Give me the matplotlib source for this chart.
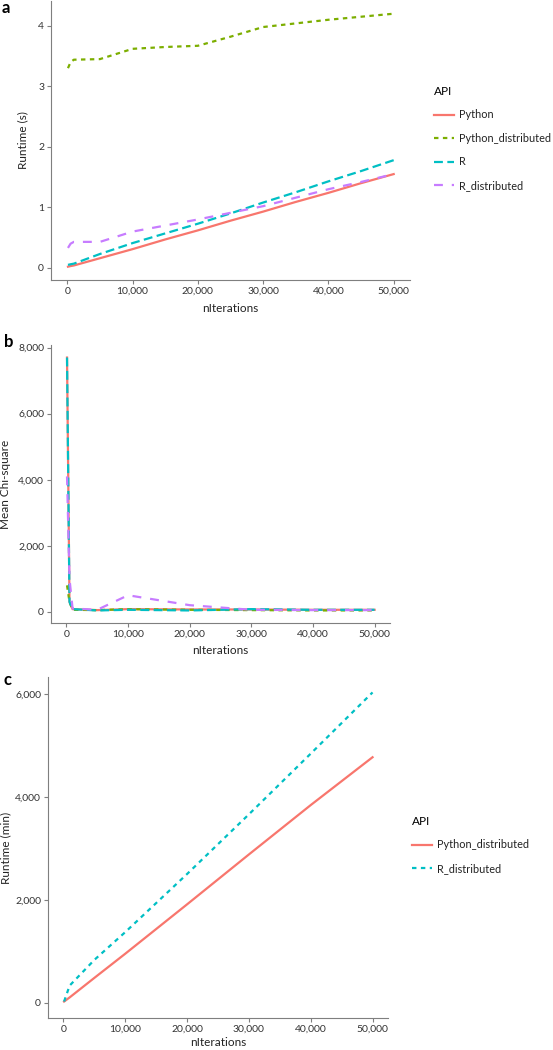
import matplotlib.pyplot as plt
from matplotlib.ticker import FuncFormatter

plt.rcParams['font.family'] = ['Lato', 'DejaVu Sans']

# ---- data ----
apis = ["Python", "Python_distributed", "R", "R_distributed"]
colors = ["#F8766D", "#7CAE00", "#00BFC4", "#C77CFF"]
dashes = [None, (2, 2), (4, 2), (4, 4)]

# a: runtime (s)
a_iter = [100, 500, 1000, 5000, 10000, 15000, 20000, 25000, 30000, 35000, 40000, 45000, 50000]
a_python = [0.02, 0.03, 0.04, 0.16, 0.31, 0.47, 0.62, 0.78, 0.93, 1.09, 1.24, 1.40, 1.55]
a_python_dist = [3.30, 3.40, 3.44, 3.45, 3.62, 3.65, 3.67, 3.82, 3.98, 4.04, 4.10, 4.15, 4.20]
a_r = [0.05, 0.06, 0.07, 0.23, 0.41, 0.57, 0.73, 0.90, 1.08, 1.25, 1.43, 1.60, 1.78]
a_r_dist = [0.33, 0.40, 0.43, 0.43, 0.60, 0.70, 0.80, 0.91, 1.02, 1.16, 1.30, 1.42, 1.55]

# b: mean chi-square
b_iter = [100, 500, 1000, 5000, 10000, 20000, 30000, 40000, 50000]
b_python = [7700, 300, 80, 50, 80, 70, 70, 60, 60]
b_python_dist = [800, 300, 60, 50, 80, 60, 50, 40, 40]
b_r = [7700, 300, 80, 40, 60, 40, 80, 60, 60]
b_r_dist = [4100, 1000, 100, 60, 500, 200, 60, 50, 50]

# c: runtime (min)
c_apis = ["Python_distributed", "R_distributed"]
c_colors = ["#F8766D", "#00BFC4"]
c_dashes = [None, (2, 2)]
c_iter = [100, 1000, 5000, 10000, 20000, 30000, 40000, 50000]
c_python_dist = [20, 100, 480, 950, 1910, 2880, 3840, 4770]
c_r_dist = [20, 330, 830, 1370, 2500, 3660, 4840, 6030]

W, H = 553, 1050
fig = plt.figure(figsize=(W / 100, H / 100), dpi=100)

comma = FuncFormatter(lambda v, p: f"{int(v):,}")


def box(l, t, r, b):
    return [l / W, 1 - b / H, (r - l) / W, (b - t) / H]


def style(ax, ylabel, ylab_x, xlab_y):
    for s in ["top", "right"]:
        ax.spines[s].set_visible(False)
    for s in ["left", "bottom"]:
        ax.spines[s].set_color("#7f7f7f")
        ax.spines[s].set_linewidth(0.8)
    ax.tick_params(colors="#7f7f7f", labelcolor="#333333", labelsize=7.5,
                   length=3, width=0.8, pad=2)
    ax.set_xlim(-2500, 52500)
    ax.set_xticks([0, 10000, 20000, 30000, 40000, 50000])
    ax.xaxis.set_major_formatter(comma)
    ax.set_xlabel("nIterations", fontsize=8.5, color="#222222")
    ax.set_ylabel(ylabel, fontsize=8.5, color="#222222")
    # place axis titles where the reference has them (figure pixels)
    pos = ax.get_position()
    ax.yaxis.set_label_coords(ylab_x / W, pos.y0 + pos.height / 2,
                              transform=fig.transFigure)
    ax.xaxis.set_label_coords(pos.x0 + pos.width / 2, 1 - xlab_y / H,
                              transform=fig.transFigure)
    ax.yaxis.label.set_va("center")
    ax.xaxis.label.set_va("center")


def draw(ax, x, ys, cols, dsh, labels):
    for y, c, d, lab in zip(ys, cols, dsh, labels):
        ln, = ax.plot(x, y, color=c, lw=1.6, label=lab)
        if d is not None:
            ln.set_dashes(d)


def legend(ax, anchor):
    leg = ax.legend(title="API", frameon=False, loc="upper left",
                    bbox_to_anchor=anchor, bbox_transform=fig.transFigure,
                    fontsize=7.8, title_fontsize=8.5, handlelength=1.8,
                    handletextpad=0.5, labelspacing=1.15, borderaxespad=0,
                    borderpad=0)
    leg._legend_box.align = "left"
    for t in leg.get_texts():
        t.set_color("#222222")


# a
ax1 = fig.add_axes(box(51, 1, 410, 280))
draw(ax1, a_iter, [a_python, a_python_dist, a_r, a_r_dist], colors, dashes, apis)
ax1.set_ylim(-0.2, 4.41)
ax1.set_yticks([0, 1, 2, 3, 4])
style(ax1, "Runtime (s)", 23, 309)
legend(ax1, (434 / W, 1 - 86 / H))

# b
ax2 = fig.add_axes(box(51, 345, 390, 623))
draw(ax2, b_iter, [b_python, b_python_dist, b_r, b_r_dist], colors, dashes, apis)
ax2.set_ylim(-340, 8080)
ax2.set_yticks([0, 2000, 4000, 6000, 8000])
ax2.yaxis.set_major_formatter(comma)
style(ax2, "Mean Chi-square", 6, 651)

# c
ax3 = fig.add_axes(box(48, 677, 388, 1018))
draw(ax3, c_iter, [c_python_dist, c_r_dist], c_colors, c_dashes, c_apis)
ax3.set_ylim(-300, 6330)
ax3.set_yticks([0, 2000, 4000, 6000])
ax3.yaxis.set_major_formatter(comma)
style(ax3, "Runtime (min)", 6, 1043)
legend(ax3, (412 / W, 1 - 816 / H))

for lab, (x, y) in zip("abc", [(2, 8), (4, 342), (4, 680)]):
    fig.text(x / W, 1 - y / H, lab, fontsize=12, fontweight="bold",
             va="center", ha="left")

plt.savefig("out.png", dpi=100)
